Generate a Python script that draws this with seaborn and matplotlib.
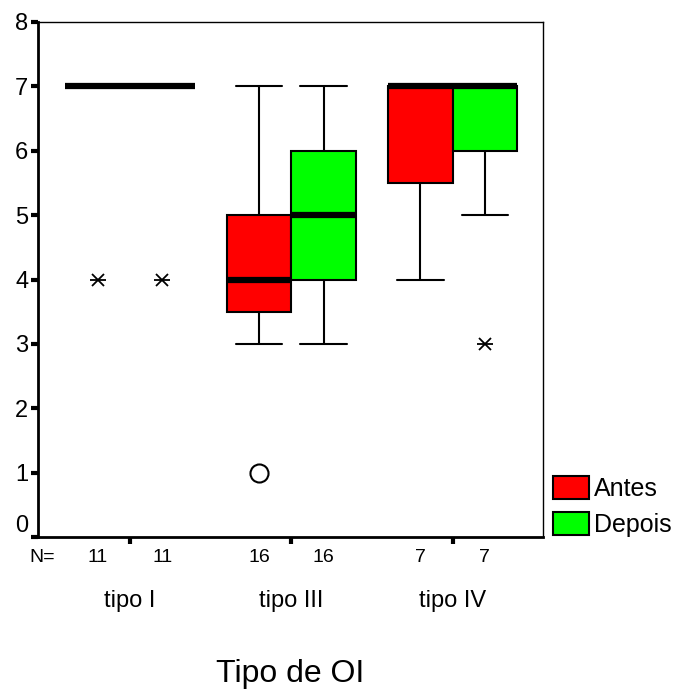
import matplotlib
matplotlib.use("Agg")
import matplotlib.pyplot as plt
from matplotlib.patches import Patch
import seaborn as sns
import pandas as pd

# categorias
tipos = ["tipo I", "tipo III", "tipo IV"]
momentos = ["Antes", "Depois"]
cores = {"Antes": "#ff0000", "Depois": "#00ff00"}

# observacoes por grupo (N = 11, 11, 16, 16, 7, 7)
antes_tipo1 = [4, 7, 7, 7, 7, 7, 7, 7, 7, 7, 7]
depois_tipo1 = [4, 7, 7, 7, 7, 7, 7, 7, 7, 7, 7]
antes_tipo3 = [1, 3, 3, 3.5, 3.5, 4, 4, 4, 4, 4, 5, 5, 5, 5, 6, 7]
depois_tipo3 = [3, 3, 4, 4, 4, 4, 5, 5, 5, 5, 6, 6, 6, 6, 7, 7]
antes_tipo4 = [4, 5, 6, 7, 7, 7, 7]
depois_tipo4 = [3, 5, 7, 7, 7, 7, 7]

# pontos fora dos bigodes (o = outlier, * = extremo, como no SPSS)
out_tipo = ["tipo I", "tipo I", "tipo III", "tipo IV"]
out_momento = ["Antes", "Depois", "Antes", "Depois"]
out_valor = [4, 4, 1, 3]
out_extremo = [True, True, False, True]

grupos = {
    ("tipo I", "Antes"): antes_tipo1,
    ("tipo I", "Depois"): depois_tipo1,
    ("tipo III", "Antes"): antes_tipo3,
    ("tipo III", "Depois"): depois_tipo3,
    ("tipo IV", "Antes"): antes_tipo4,
    ("tipo IV", "Depois"): depois_tipo4,
}
linhas = [(t, m, v) for (t, m), vals in grupos.items() for v in vals]
df = pd.DataFrame(linhas, columns=["tipo", "momento", "valor"])

preto = {"axes.edgecolor": "black", "text.color": "black", "xtick.color": "black",
         "ytick.color": "black", "axes.labelcolor": "black"}
sns.set_style("ticks", preto)
plt.rcParams["font.family"] = ["Liberation Sans", "DejaVu Sans"]

fig = plt.figure(figsize=(6.84, 6.90), dpi=100)
ax = fig.add_axes([38 / 684, 1 - 537 / 690, (543 - 38) / 684, (537 - 22) / 690])

sns.boxplot(data=df, x="tipo", y="valor", hue="momento", order=tipos, hue_order=momentos,
            palette=cores, saturation=1, width=0.8, gap=0, whis=1.5, showfliers=False,
            linecolor="black", linewidth=1.5,
            medianprops=dict(linewidth=4.5, color="black", solid_capstyle="butt"),
            capwidths=0.29, legend=False, ax=ax)

# outliers desenhados a parte para ter marcadores diferentes
desloc = {"Antes": -0.2, "Depois": 0.2}
for t, m, v, ext in zip(out_tipo, out_momento, out_valor, out_extremo):
    x = tipos.index(t) + desloc[m]
    if ext:
        # asterisco do SPSS: um x com um traco horizontal
        ax.plot(x, v, marker="x", ms=8, mec="black", mew=1.3, ls="none")
        ax.plot(x, v, marker="_", ms=11, mec="black", mew=1.3, ls="none")
    else:
        ax.plot(x, v, marker="o", ms=13, mfc="white", mec="black", mew=1.5, ls="none")

ax.set_ylim(0, 8)
ax.set_xlim(-0.57, 2.56)
ax.set_yticks(range(9))
ax.set_ylabel("")
ax.set_xticks(range(len(tipos)))
ax.set_xticklabels(tipos)
for lado in ["left", "bottom"]:
    ax.spines[lado].set_linewidth(2)
for lado in ["top", "right"]:
    ax.spines[lado].set_visible(True)
    ax.spines[lado].set_linewidth(1)
ax.tick_params(axis="y", direction="out", length=5, width=3, labelsize=17, pad=2)
ax.tick_params(axis="x", direction="out", length=5, width=3, labelsize=17, pad=33)
# o SPSS sobe o rotulo do zero para nao encostar na linha de N
ax.get_yticklabels()[0].set_va("bottom")
ax.set_xlabel("Tipo de OI", fontsize=23, labelpad=34)

# linha de N
fig.text(42 / 684, 1 - 557 / 690, "N=", ha="center", va="center", fontsize=14)
for t in tipos:
    for m in momentos:
        ax.text(tipos.index(t) + desloc[m], -0.039, str(len(grupos[(t, m)])),
                transform=ax.get_xaxis_transform(), ha="center", va="center", fontsize=14)

handles = [Patch(facecolor=cores[m], edgecolor="black", linewidth=1.5, label=m) for m in momentos]
fig.legend(handles=handles, loc="lower left", bbox_to_anchor=(553 / 684, 1 - 537 / 690),
           frameon=False, fontsize=18, handlelength=1.45, handleheight=1.05,
           handletextpad=0.2, labelspacing=0.45, borderpad=0, borderaxespad=0)

fig.savefig("out.png", dpi=100)
